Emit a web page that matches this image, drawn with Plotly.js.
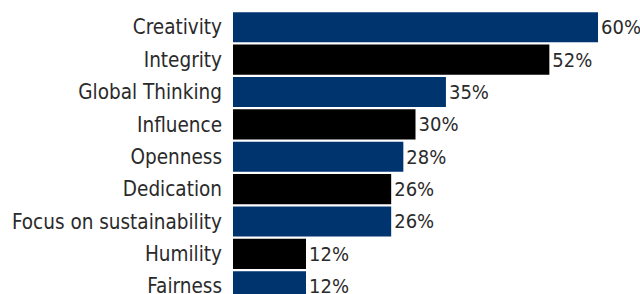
<!DOCTYPE html>
<html><head><meta charset="utf-8">
<script src="https://cdn.plot.ly/plotly-3.0.1.min.js"></script>
<style>html,body{margin:0;padding:0;background:#fff;}#chart{width:640px;height:294px;}</style>
</head><body><div id="chart"></div>
<script>
const categories = ["Creativity","Integrity","Global Thinking","Influence","Openness","Dedication","Focus on sustainability","Humility","Fairness"];
const values = [60,52,35,30,28,26,26,12,12];
const labels = ["60%","52%","35%","30%","28%","26%","26%","12%","12%"];
const barColors = ["#00346f","#000000","#00346f","#000000","#00346f","#000000","#00346f","#000000","#00346f"];

const trace = {
  type: 'bar', orientation: 'h',
  x: values, y: categories,
  marker: {color: barColors},
  text: labels, textposition: 'outside', cliponaxis: false,
  textfont: {family: 'DejaVu Sans Condensed, Liberation Sans Narrow, sans-serif', size: 20, color: '#2a2a2a'},
  hoverinfo: 'none'
};
const layout = {
  width: 640, height: 294,
  margin: {l: 233, r: 0, t: 11, b: 0, pad: 0},
  paper_bgcolor: '#fff', plot_bgcolor: '#fff',
  bargap: 0.07,
  showlegend: false,
  xaxis: {range: [0, 66.9], visible: false, fixedrange: true},
  yaxis: {
    type: 'category', range: [8.24, -0.5], autorange: false,
    showgrid: false, zeroline: false, showline: false, ticks: '',
    ticklabelstandoff: 10,
    tickfont: {family: 'DejaVu Sans Condensed, Liberation Sans Narrow, sans-serif', size: 20.5, color: '#2a2a2a'}
  }
};
Plotly.newPlot('chart', [trace], layout, {staticPlot: true, displayModeBar: false});
</script></body></html>
